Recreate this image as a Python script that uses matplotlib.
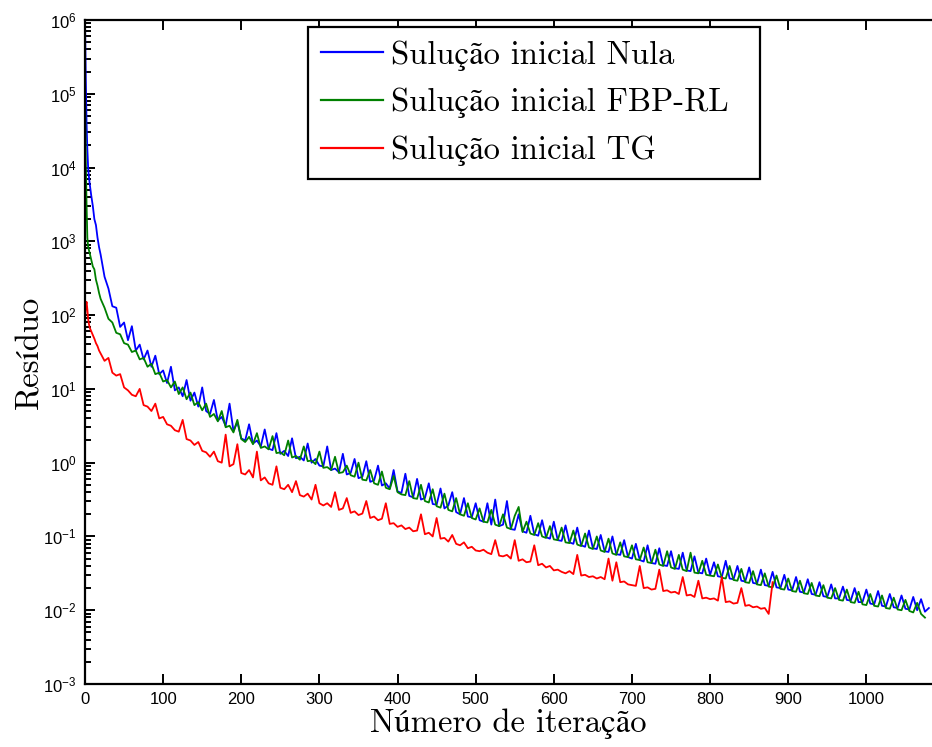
import matplotlib
matplotlib.use("Agg")
import matplotlib.pyplot as plt
import numpy as np
from matplotlib.ticker import LogLocator, NullFormatter

# ---------------- data (log10 of the residual) ----------------
iter_early = [0, 1, 2, 3, 4, 5, 6, 8, 10, 12, 14, 16, 18]

nula_early = [6.00, 5.20, 4.60, 4.25, 4.00, 3.88, 3.78, 3.62, 3.48, 3.30, 3.22, 3.05, 2.92]
fbp_early = [5.05, 4.10, 3.50, 3.05, 2.93, 2.88, 2.84, 2.75, 2.66, 2.62, 2.48, 2.40, 2.30]
tg_early = [1.95, 2.12, 2.18, 2.08, 1.95, 1.88, 1.83, 1.78, 1.73, 1.68, 1.62, 1.58, 1.52]

# from iteration 20 onward, one value every 5 iterations
nula_main = [
    2.82, 2.52, 2.36, 2.12, 2.10, 1.84, 1.90, 1.66, 1.85, 1.52, 1.60, 1.40, 1.52, 1.30, 1.45, 1.20, 1.25,
    1.08, 1.30, 0.98, 1.02, 0.90, 1.12, 0.84, 0.95, 0.76, 1.02, 0.70, 0.66, 0.85, 0.57, 0.62, 0.50, 0.80, 0.43, 0.55, 0.33,
    0.30, 0.52, 0.26, 0.30, 0.22, 0.45, 0.19, 0.17, 0.40, 0.12, 0.16, 0.09, 0.33, 0.06, 0.08, 0.03, 0.26, 0.00, 0.05, -0.04,
    -0.05, 0.22, -0.10, -0.08, -0.13, 0.12, -0.16, -0.14, 0.05, -0.21, -0.19, 0.02, -0.26, -0.24, -0.04, -0.31, -0.28, -0.35, -0.10, -0.39,
    -0.41, -0.15, -0.45, -0.47, -0.22, -0.50, -0.48, -0.28, -0.56, -0.57, -0.35, -0.62, -0.58, -0.40, -0.67, -0.70, -0.48, -0.73, -0.74, -0.55,
    -0.78, -0.80, -0.55, -0.84, -0.50, -0.86, -0.84, -0.52, -0.90, -0.91, -0.70, -0.93, -0.95, -0.72, -0.97, -0.99, -0.78, -1.01, -1.03, -0.80,
    -1.05, -1.06, -0.85, -1.08, -1.10, -0.88, -1.12, -1.14, -0.92, -1.16, -1.17, -0.98, -1.20, -1.21, -1.00, -1.24, -1.25, -1.05, -1.28, -1.30,
    -1.10, -1.32, -1.34, -1.12, -1.36, -1.37, -1.16, -1.39, -1.40, -1.20, -1.43, -1.44, -1.22, -1.46, -1.47, -1.27, -1.49, -1.50, -1.30, -1.52,
    -1.35, -1.54, -1.55, -1.33, -1.57, -1.58, -1.40, -1.60, -1.61, -1.42, -1.63, -1.64, -1.45, -1.66, -1.67, -1.48, -1.69, -1.70, -1.52, -1.72,
    -1.73, -1.55, -1.75, -1.76, -1.58, -1.78, -1.79, -1.62, -1.81, -1.82, -1.65, -1.84, -1.84, -1.68, -1.86, -1.87, -1.70, -1.89, -1.89, -1.72,
    -1.91, -1.92, -1.74, -1.94, -1.95, -1.78, -1.96, -1.97, -1.80, -1.98, -1.99, -1.82, -2.00, -1.85, -2.02, -1.97,
]

fbp_main = [
    2.22, 2.10, 1.95, 1.90, 1.76, 1.74, 1.62, 1.60, 1.50, 1.52, 1.40, 1.42, 1.30, 1.34, 1.20, 1.22, 1.10,
    1.12, 1.02, 1.10, 0.93, 1.02, 0.86, 0.95, 0.78, 0.82, 0.71, 0.80, 0.62, 0.66, 0.56, 0.70, 0.48, 0.50, 0.41, 0.58, 0.32,
    0.28, 0.35, 0.25, 0.40, 0.20, 0.22, 0.18, 0.36, 0.13, 0.14, 0.10, 0.30, 0.07, 0.09, 0.04, 0.22, 0.02, 0.03, -0.02, 0.15,
    -0.07, -0.06, -0.10, 0.08, -0.14, -0.13, -0.04, -0.17, -0.19, 0.00, -0.23, -0.24, -0.10, -0.28, -0.30, -0.12, -0.34, -0.36, -0.18, -0.40,
    -0.43, -0.44, -0.25, -0.48, -0.49, -0.30, -0.52, -0.54, -0.36, -0.59, -0.61, -0.42, -0.64, -0.66, -0.48, -0.70, -0.72, -0.55, -0.75, -0.77,
    -0.62, -0.80, -0.81, -0.64, -0.84, -0.86, -0.70, -0.88, -0.90, -0.72, -0.60, -0.94, -0.80, -0.96, -0.98, -0.82, -1.00, -1.02, -0.86, -1.04,
    -1.05, -0.88, -1.08, -1.09, -0.92, -1.11, -1.13, -0.96, -1.15, -1.17, -1.00, -1.19, -1.21, -1.03, -1.23, -1.25, -1.08, -1.27, -1.28, -1.12,
    -1.31, -1.32, -1.15, -1.35, -1.36, -1.18, -1.38, -1.40, -1.20, -1.42, -1.44, -1.25, -1.45, -1.47, -1.22, -1.49, -1.50, -1.33, -1.52, -1.53,
    -1.54, -1.38, -1.56, -1.57, -1.40, -1.59, -1.60, -1.44, -1.62, -1.63, -1.47, -1.65, -1.66, -1.50, -1.68, -1.69, -1.53, -1.71, -1.72, -1.57,
    -1.74, -1.75, -1.60, -1.77, -1.78, -1.63, -1.80, -1.81, -1.66, -1.83, -1.84, -1.70, -1.86, -1.87, -1.72, -1.89, -1.90, -1.75, -1.92, -1.93,
    -1.78, -1.94, -1.95, -1.80, -1.97, -1.98, -1.83, -1.99, -2.00, -1.86, -2.01, -2.03, -1.90, -2.05, -2.10,
]

tg_main = [
    1.48, 1.38, 1.42, 1.22, 1.18, 1.20, 1.02, 0.98, 0.92, 0.90, 1.00, 0.78, 0.76, 0.70, 0.80, 0.60, 0.62,
    0.52, 0.50, 0.44, 0.42, 0.58, 0.32, 0.30, 0.24, 0.28, 0.16, 0.14, 0.08, 0.15, 0.02, 0.00, 0.38, -0.05, -0.02, 0.25, -0.14,
    -0.16, -0.10, -0.20, 0.15, -0.24, -0.20, -0.28, -0.30, -0.05, -0.34, -0.36, -0.30, -0.40, -0.25, -0.44, -0.46, -0.42, -0.50, -0.30, -0.55,
    -0.58, -0.55, -0.60, -0.40, -0.64, -0.62, -0.48, -0.68, -0.66, -0.71, -0.69, -0.52, -0.75, -0.73, -0.78, -0.76, -0.55, -0.83, -0.82, -0.87,
    -0.85, -0.90, -0.88, -0.93, -0.92, -0.70, -0.97, -0.95, -1.00, -0.75, -1.03, -1.02, -1.07, -0.98, -1.10, -1.12, -1.08, -1.16, -1.14, -1.19,
    -1.20, -1.18, -1.22, -1.24, -1.05, -1.26, -1.27, -1.25, -1.30, -1.05, -1.33, -1.31, -1.35, -1.34, -1.12, -1.39, -1.37, -1.42, -1.40, -1.46,
    -1.45, -1.48, -1.50, -1.47, -1.51, -1.25, -1.53, -1.52, -1.55, -1.54, -1.57, -1.55, -1.58, -1.30, -1.60, -1.35, -1.62, -1.61, -1.65, -1.66,
    -1.67, -1.40, -1.70, -1.69, -1.72, -1.71, -1.45, -1.74, -1.73, -1.76, -1.75, -1.78, -1.55, -1.80, -1.79, -1.82, -1.60, -1.84, -1.83, -1.85,
    -1.84, -1.87, -1.55, -1.89, -1.88, -1.91, -1.90, -1.70, -1.94, -1.93, -1.96, -1.95, -1.98, -1.97, -2.05, -1.62,
]

labels = ["Sulução inicial Nula", "Sulução inicial FBP-RL", "Sulução inicial TG"]
colors = [(0, 0, 1), (0, 0.5, 0), (1, 0, 0)]
x_label = "Número de iteração"
y_label = "Resíduo"
x_ticks = list(range(0, 1001, 100))


def series(early, main):
    x = np.array(iter_early + list(20 + 5 * np.arange(len(main))))
    y = 10.0 ** np.array(early + main)
    return x, y


# ---------------- figure ----------------
plt.rcParams["font.family"] = ["Liberation Sans", "DejaVu Sans"]
plt.rcParams["mathtext.default"] = "regular"
serif = ["cmr10", "STIXGeneral", "DejaVu Serif"]

W, H = 932, 747
fig = plt.figure(figsize=(W / 100, H / 100), dpi=100)
left, top, bottom = 85, 20, 684
ax = fig.add_axes([left / W, 1 - bottom / H, 1 - left / W, (bottom - top) / H])

for (early, main), lab, col in zip(
    [(nula_early, nula_main), (fbp_early, fbp_main), (tg_early, tg_main)], labels, colors
):
    x, y = series(early, main)
    ax.plot(x, y, color=col, lw=1.3, label=lab)

ax.set_yscale("log")
ax.set_ylim(1e-3, 1e6)
ax.set_xlim(0, 1084)
ax.set_xticks(x_ticks)
ax.yaxis.set_major_locator(LogLocator(base=10, numticks=20))
ax.yaxis.set_minor_locator(LogLocator(base=10, subs=np.arange(2, 10), numticks=20))
ax.yaxis.set_minor_formatter(NullFormatter())

ax.tick_params(which="both", direction="in", top=True, right=False, width=1.4, colors="black")
ax.tick_params(which="major", length=7, labelsize=12, pad=6)
ax.tick_params(which="minor", length=4)
for s in ["left", "bottom", "top"]:
    ax.spines[s].set_linewidth(1.6)
ax.spines["right"].set_visible(False)

ax.set_xlabel(x_label, fontsize=23.5, family=serif, labelpad=1)
ax.set_ylabel(y_label, fontsize=23.5, family=serif, labelpad=-1)

# legend box: 308..760 px wide, top at 27 px
ax_w = W - left
ax_h = bottom - top
leg = ax.legend(
    loc="upper left",
    bbox_to_anchor=((308 - left) / ax_w, 0.0, (760 - 308) / ax_w, 1 - (27 - top) / ax_h),
    mode="expand",
    prop={"family": serif, "size": 23.5},
    frameon=True,
    fancybox=False,
    edgecolor="black",
    framealpha=1,
    borderaxespad=0,
    handlelength=1.9,
    handletextpad=0.25,
    labelspacing=0.53,
    borderpad=0.4,
)
leg.get_frame().set_linewidth(1.6)
for line in leg.get_lines():
    line.set_linewidth(1.6)

fig.savefig("out.png", dpi=100)
